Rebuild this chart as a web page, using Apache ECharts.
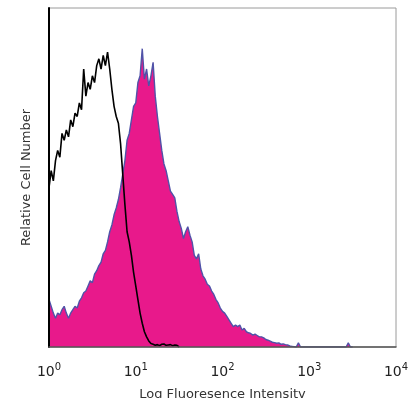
<!DOCTYPE html>
<html>
<head>
<meta charset="utf-8">
<script src="https://cdn.jsdelivr.net/npm/echarts@6/dist/echarts.min.js"></script>
<style>
html,body{margin:0;padding:0;background:#fff;}
#chart{width:409px;height:398px;}
</style>
</head>
<body>
<div id="chart"></div>
<script>
// Bin width in decades (log10 units) for both histograms
const binStep = 0.025;

// Isotype control (black outline), counts per bin starting at 10^0
const controlCounts = [
  47, 52, 49, 55, 58, 56, 63, 61, 64, 62,
  67, 65, 69, 68, 72, 70, 82, 74, 78, 76,
  80, 78, 83, 85, 82, 86, 83, 87, 82, 76,
  71, 68, 66, 60, 51, 42, 34, 31, 27, 22,
  18, 14, 10, 7, 4.5, 3, 1.8, 1.0, 0.8, 0.5,
  0.7, 0.4, 0.8, 0.9, 0.5, 0.6, 0.7, 0.4, 0.6, 0.5, 0
];

// Stained sample (magenta filled), counts per bin starting at 10^0
const stainedCounts = [
  14, 12, 10, 8.5, 10, 9.5, 11, 12, 10, 8.5,
  10, 11, 12, 11.5, 13.5, 14.5, 16, 16.5, 18, 19.5,
  19, 21.5, 22.5, 24, 25, 27.5, 28.5, 31, 34, 36,
  39, 41, 43.5, 47, 51, 55, 61, 63, 67, 71,
  72, 78, 80, 88, 79, 82, 77, 80, 84, 74,
  68, 63, 58, 54, 52, 49, 46, 45, 44, 40,
  37, 35, 32, 34, 35.5, 33, 31, 27, 26, 27.5,
  23, 21, 20, 18.5, 18, 16.5, 15.5, 14, 13, 11.5,
  10.5, 10, 9, 8, 7, 6, 6.5, 6, 6.5, 5,
  5.5, 4.5, 4.2, 4, 3.5, 3.8, 3.4, 3, 3, 2.7,
  2.2, 2, 1.7, 1.4, 1.3, 1.1, 1.2, 0.8, 0.9, 0.7,
  0.6, 0.3, 0.2, 0.1, 0, 1.2, 0, 0, 0, 0,
  0, 0, 0, 0, 0, 0, 0, 0, 0, 0,
  0, 0, 0, 0, 0, 0, 0, 0, 1.2, 0, 0
];

// Axis tick exponents (labels 10^0 ... 10^4)
const tickExponents = [0, 1, 2, 3, 4];
const xTitle = 'Log Fluoresence Intensity';
const yTitle = 'Relative Cell Number';

function toPairs(arr) { return arr.map((v, i) => [i * binStep, v]); }

const chart = echarts.init(document.getElementById('chart'), null, {renderer: 'canvas'});
chart.setOption({
  animation: false,
  backgroundColor: '#fff',
  grid: {left: 49, right: 13, top: 8, bottom: 51, show: true, borderColor: '#9a9a9a', borderWidth: 1,
         containLabel: false, outerBoundsMode: 'none'},
  xAxis: {
    type: 'value', min: 0, max: 4, interval: 1, z: 5,
    axisLine: {show: true, lineStyle: {color: '#555', width: 1.5}},
    axisTick: {show: false},
    splitLine: {show: false},
    axisLabel: {
      margin: 15,
      formatter: function (v) { return tickExponents.indexOf(v) >= 0 ? '{b|10}{s|' + v + '}' : ''; },
      rich: {
        b: {fontFamily: 'DejaVu Sans', fontSize: 14, color: '#222'},
        s: {fontFamily: 'DejaVu Sans', fontSize: 10, color: '#222', padding: [0, 0, 10, 0]}
      }
    },
    name: xTitle, nameLocation: 'middle', nameGap: 41,
    nameTextStyle: {fontFamily: 'DejaVu Sans', fontSize: 13, color: '#333'}
  },
  yAxis: {
    type: 'value', min: 0, max: 100, z: 5,
    axisLine: {show: true, lineStyle: {color: '#000', width: 2}},
    axisTick: {show: false},
    axisLabel: {show: false},
    splitLine: {show: false},
    name: yTitle, nameLocation: 'middle', nameGap: 16,
    nameTextStyle: {fontFamily: 'DejaVu Sans', fontSize: 13, color: '#333'}
  },
  series: [
    {
      type: 'line', data: toPairs(stainedCounts), showSymbol: false, z: 2,
      lineStyle: {color: '#5053a8', width: 1.4},
      areaStyle: {color: '#e8198b', opacity: 1}
    },
    {
      type: 'line', data: toPairs(controlCounts), showSymbol: false, z: 3,
      lineStyle: {color: '#000', width: 1.6}
    }
  ]
});
</script>
</body>
</html>
